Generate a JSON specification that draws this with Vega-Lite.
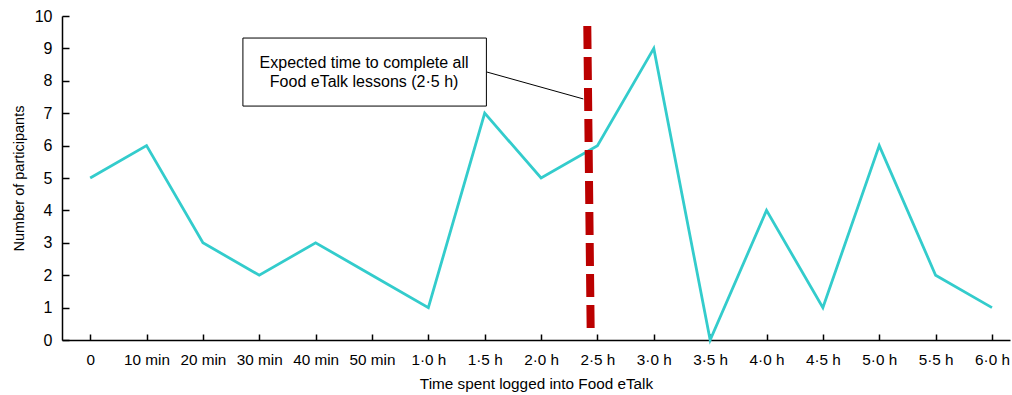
{
  "$schema": "https://vega.github.io/schema/vega-lite/v6.json",
  "autosize": "none",
  "width": 948,
  "height": 324,
  "padding": {"left": 62, "top": 16, "right": 2, "bottom": 55},
  "background": "white",
  "config": {
    "view": {"stroke": null},
    "font": "Liberation Sans",
    "axis": {"grid": false, "domainColor": "black", "domainWidth": 1.5, "tickColor": "black", "tickWidth": 1.5, "labelColor": "black", "titleColor": "black", "titleFontWeight": "normal", "labelFont": "Liberation Sans", "titleFont": "Liberation Sans"}
  },
  "datasets": {
    "series": [
      {"x": 0, "label": "0", "y": 5},
      {"x": 1, "label": "10 min", "y": 6},
      {"x": 2, "label": "20 min", "y": 3},
      {"x": 3, "label": "30 min", "y": 2},
      {"x": 4, "label": "40 min", "y": 3},
      {"x": 5, "label": "50 min", "y": 2},
      {"x": 6, "label": "1·0 h", "y": 1},
      {"x": 7, "label": "1·5 h", "y": 7},
      {"x": 8, "label": "2·0 h", "y": 5},
      {"x": 9, "label": "2·5 h", "y": 6},
      {"x": 10, "label": "3·0 h", "y": 9},
      {"x": 11, "label": "3·5 h", "y": 0},
      {"x": 12, "label": "4·0 h", "y": 4},
      {"x": 13, "label": "4·5 h", "y": 1},
      {"x": 14, "label": "5·0 h", "y": 6},
      {"x": 15, "label": "5·5 h", "y": 2},
      {"x": 16, "label": "6·0 h", "y": 1}
    ],
    "expected": [{"x": 8.82, "y": 9.69, "x2": 8.88, "y2": 0.31}],
    "leader": [{"x": 7.04, "y": 8.27, "x2": 8.75, "y2": 7.44}],
    "box": [{"x": 2.71, "y": 9.32, "x2": 7.03, "y2": 7.22}],
    "note": [
      {"x": 4.86, "y": 8.56, "text": "Expected time to complete all"},
      {"x": 4.86, "y": 7.97, "text": "Food eTalk lessons (2·5 h)"}
    ]
  },
  "encoding": {
    "x": {
      "field": "x", "type": "quantitative",
      "scale": {"domain": [-0.5, 16.32], "nice": false, "zero": false},
      "axis": {
        "title": "Time spent logged into Food eTalk",
        "titleFontSize": 15.3, "titlePadding": 9,
        "values": [0,1,2,3,4,5,6,7,8,9,10,11,12,13,14,15,16],
        "labelExpr": "['0','10 min','20 min','30 min','40 min','50 min','1·0 h','1·5 h','2·0 h','2·5 h','3·0 h','3·5 h','4·0 h','4·5 h','5·0 h','5·5 h','6·0 h'][datum.value]",
        "labelFontSize": 15.3, "tickSize": -6, "labelPadding": 18, "labelFlush": false, "labelOverlap": false
      }
    },
    "y": {
      "field": "y", "type": "quantitative",
      "scale": {"domain": [0, 10], "nice": false},
      "axis": {
        "title": "Number of participants",
        "titleFontSize": 14.5, "titlePadding": 8,
        "values": [0,1,2,3,4,5,6,7,8,9,10],
        "labelFontSize": 16, "tickSize": -7, "labelPadding": 17, "labelFlush": false, "labelOverlap": false
      }
    }
  },
  "layer": [
    {
      "data": {"name": "series"},
      "mark": {"type": "line", "color": "#33CCCC", "strokeWidth": 2.8}
    },
    {
      "data": {"name": "expected"},
      "mark": {"type": "rule", "color": "#BB0000", "strokeWidth": 8, "strokeDash": [23, 8]},
      "encoding": {"x2": {"field": "x2"}, "y2": {"field": "y2"}}
    },
    {
      "data": {"name": "leader"},
      "mark": {"type": "rule", "color": "black", "strokeWidth": 1},
      "encoding": {"x2": {"field": "x2"}, "y2": {"field": "y2"}}
    },
    {
      "data": {"name": "box"},
      "mark": {"type": "rect", "fill": "white", "stroke": "black", "strokeWidth": 1},
      "encoding": {"x2": {"field": "x2"}, "y2": {"field": "y2"}}
    },
    {
      "data": {"name": "note"},
      "mark": {"type": "text", "fontSize": 16, "color": "black", "align": "center", "baseline": "middle", "font": "Liberation Sans"},
      "encoding": {"text": {"field": "text"}}
    }
  ]
}
